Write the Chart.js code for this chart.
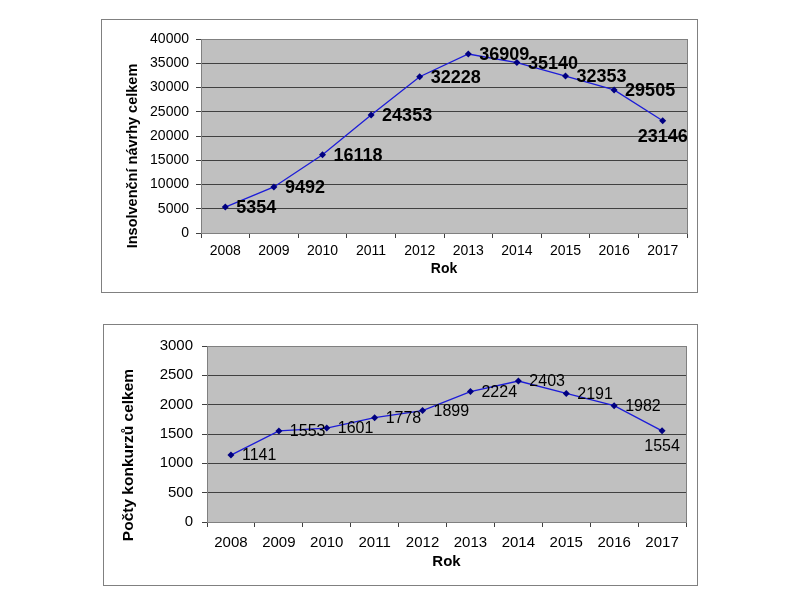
<!DOCTYPE html>
<html>
<head>
<meta charset="utf-8">
<script src="https://cdn.jsdelivr.net/npm/chart.js@4"></script>
<style>
body { margin: 0; background: #fff; }
canvas { position: absolute; }
#c1 { left: 101px; top: 19px; }
#c2 { left: 103px; top: 324px; }
</style>
</head>
<body>
<canvas id="c1" width="597" height="274"></canvas>
<canvas id="c2" width="595" height="262"></canvas>
<script>
// data
var years = ['2008','2009','2010','2011','2012','2013','2014','2015','2016','2017'];
var insolvency = [5354, 9492, 16118, 24353, 32228, 36909, 35140, 32353, 29505, 23146];
var bankruptcy = [1141, 1553, 1601, 1778, 1899, 2224, 2403, 2191, 1982, 1554];

var FONT = "'Liberation Sans', Arial, sans-serif";

// gray plot area, box frame, y title, point labels
var excelLook = {
  id: 'excelLook',
  beforeDraw: function(chart) {
    var ctx = chart.ctx, a = chart.chartArea;
    ctx.save();
    ctx.fillStyle = '#fff';
    ctx.fillRect(0, 0, chart.width, chart.height);
    ctx.fillStyle = '#c0c0c0';
    ctx.fillRect(a.left, a.top, a.right - a.left, a.bottom - a.top);
    ctx.restore();
  },
  beforeDatasetsDraw: function(chart) {
    var ctx = chart.ctx, a = chart.chartArea;
    ctx.save();
    ctx.strokeStyle = '#808080';
    ctx.lineWidth = 1;
    ctx.strokeRect(Math.round(a.left) + 0.5, Math.round(a.top) + 0.5, Math.round(a.right - a.left), Math.round(a.bottom - a.top));
    ctx.restore();
  },
  afterDraw: function(chart, args, o) {
    var ctx = chart.ctx;
    ctx.save();
    ctx.strokeStyle = '#808080';
    ctx.lineWidth = 1;
    ctx.strokeRect(0.5, 0.5, chart.width - 1, chart.height - 1);
    // y title centred on the whole box
    ctx.translate(o.yTitleX, chart.height / 2);
    ctx.rotate(-Math.PI / 2);
    ctx.font = 'bold ' + o.yTitleSize + 'px ' + FONT;
    ctx.fillStyle = '#000';
    ctx.textAlign = 'center';
    ctx.textBaseline = 'middle';
    ctx.fillText(o.yTitle, 0, 0);
    ctx.restore();

    // value labels
    var meta = chart.getDatasetMeta(0);
    var vals = chart.data.datasets[0].data;
    var a = chart.chartArea;
    ctx.save();
    ctx.font = o.labelFont;
    ctx.fillStyle = '#000';
    ctx.textBaseline = 'middle';
    meta.data.forEach(function(p, i) {
      var t = String(vals[i]);
      var w = ctx.measureText(t).width;
      if (p.x + 11 + w > a.right) {
        ctx.textAlign = 'center';
        ctx.fillText(t, p.x, p.y + 16);
      } else {
        ctx.textAlign = 'left';
        ctx.fillText(t, p.x + 11, p.y + 1);
      }
    });
    ctx.restore();
  }
};

function makeChart(id, values, cfg) {
  return new Chart(document.getElementById(id), {
    type: 'line',
    data: {
      labels: years,
      datasets: [{
        data: values,
        borderColor: '#1c1cd8',
        borderWidth: 1.3,
        tension: 0,
        pointStyle: 'rectRot',
        pointRadius: 3.5,
        pointBackgroundColor: '#000080',
        pointBorderColor: '#000080',
        pointBorderWidth: 0
      }]
    },
    plugins: [excelLook],
    options: {
      responsive: false,
      animation: false,
      layout: { padding: cfg.padding },
      plugins: {
        legend: { display: false },
        tooltip: { enabled: false },
        excelLook: {
          yTitle: cfg.yTitle, yTitleX: cfg.yTitleX, yTitleSize: cfg.yTitleSize,
          labelFont: cfg.labelFont
        }
      },
      scales: {
        x: {
          offset: true,
          afterFit: function(s) { s.height = cfg.xHeight; },
          grid: { offset: true, drawOnChartArea: false, drawTicks: true, tickLength: 5, color: '#404040' },
          border: { display: true, color: '#808080' },
          ticks: { color: '#000', font: { family: FONT, size: cfg.tickSize }, padding: cfg.xPad, maxRotation: 0 },
          title: { display: true, text: 'Rok', color: '#000', font: { family: FONT, size: cfg.tickSize, weight: 'bold' }, padding: 0 }
        },
        y: {
          min: 0, max: cfg.max,
          afterFit: function(s) { s.width = cfg.yWidth; },
          grid: { color: '#404040', drawTicks: true, tickLength: 5 },
          border: { display: true, color: '#808080' },
          ticks: {
            stepSize: cfg.step, color: '#000', font: { family: FONT, size: cfg.tickSize }, padding: cfg.yPad,
            callback: function(v) { return String(v); }
          }
        }
      }
    }
  });
}

makeChart('c1', insolvency, {
  padding: { top: 20, right: 11, left: 0, bottom: 15 },
  xHeight: 45, yWidth: 100, max: 40000, step: 5000,
  tickSize: 14, xPad: 5, yPad: 7,
  yTitle: 'Insolvenční návrhy celkem', yTitleX: 32, yTitleSize: 14.5,
  labelFont: 'bold 18px ' + FONT
});

makeChart('c2', bankruptcy, {
  padding: { top: 22, right: 12, left: 0, bottom: 15 },
  xHeight: 49, yWidth: 104, max: 3000, step: 500,
  tickSize: 15, xPad: 7, yPad: 9,
  yTitle: 'Počty konkurzů celkem', yTitleX: 26, yTitleSize: 15.5,
  labelFont: '16px ' + FONT
});
</script>
</body>
</html>
